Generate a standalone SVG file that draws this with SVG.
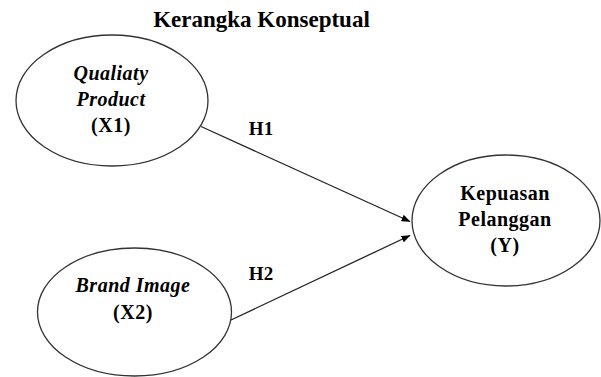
<svg xmlns="http://www.w3.org/2000/svg" width="601" height="377" viewBox="0 0 601 377">
<defs>
<style>
.node ellipse{fill:#fff;stroke:#333;stroke-width:1.3}
text{font-family:"Liberation Serif","Times New Roman",serif;font-weight:bold;fill:#000;text-anchor:middle}
.t{font-size:20px;letter-spacing:0.5px}
.i{font-style:italic}
.title{font-size:23px}
.lbl{font-size:19px}
.conn line{stroke:#222;stroke-width:1.3;fill:none}
</style>
<marker id="arr" markerWidth="9" markerHeight="7" refX="8.5" refY="3.5" orient="auto" markerUnits="userSpaceOnUse">
<path d="M0,0 L9,3.5 L0,7 Z" fill="#000"/>
</marker>
</defs>
<rect width="601" height="377" fill="#fff"/>
<text class="title" x="261.5" y="27">Kerangka Konseptual</text>
<g id="x1" class="node">
<ellipse cx="112" cy="100.5" rx="96" ry="65.5"/>
<text class="t i" x="111" y="80">Qualiaty</text>
<text class="t i" x="111" y="106">Product</text>
<text class="t" x="111" y="132">(X1)</text>
</g>
<g id="x2" class="node">
<ellipse cx="134.5" cy="312" rx="97" ry="64"/>
<text class="t i" x="133" y="292">Brand Image</text>
<text class="t" x="133" y="319">(X2)</text>
</g>
<g id="y" class="node">
<ellipse cx="506" cy="220.5" rx="94" ry="65.5"/>
<text class="t" x="505" y="200">Kepuasan</text>
<text class="t" x="505" y="226">Pelanggan</text>
<text class="t" x="505" y="252">(Y)</text>
</g>
<g id="connectors" class="conn">
<line x1="201" y1="126.5" x2="410" y2="221.5" marker-end="url(#arr)"/>
<line x1="231" y1="320" x2="410" y2="235.5" marker-end="url(#arr)"/>
<text class="lbl" x="261" y="135">H1</text>
<text class="lbl" x="261" y="280">H2</text>
</g>
</svg>
